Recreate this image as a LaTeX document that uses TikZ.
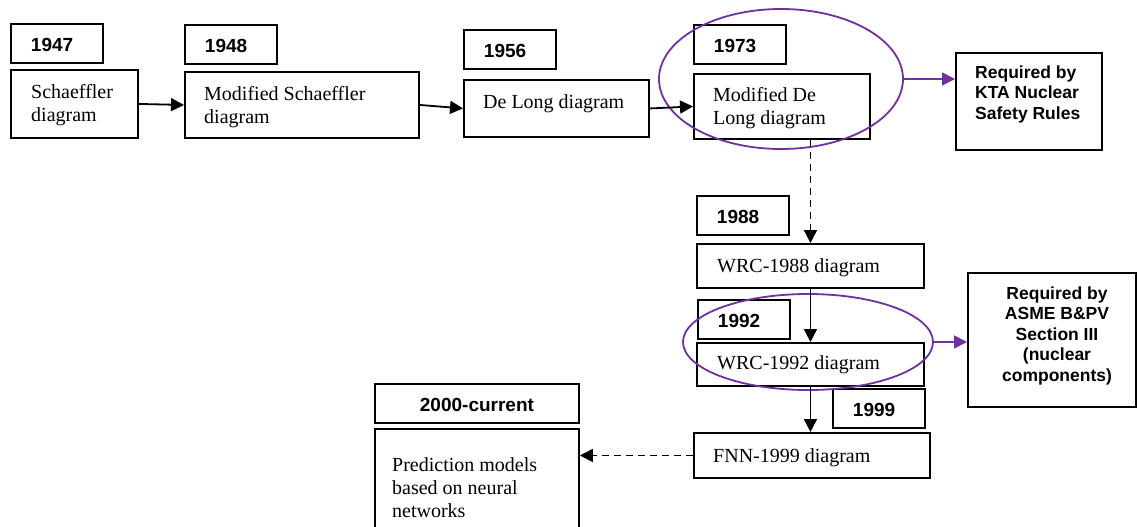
\documentclass[tikz,border=0pt]{standalone}
\usepackage{fontspec}
\setmainfont{Liberation Serif}
\setsansfont{Liberation Sans}
\usetikzlibrary{arrows.meta,shapes.geometric}
\definecolor{ringpurple}{RGB}{112,48,160}
\begin{document}
\begin{tikzpicture}[x=1pt,y=-1pt,
  box/.style={draw, line width=1.9pt, inner sep=0pt, anchor=north west},
  yearbox/.style={box, minimum height=39pt, text width=52pt, inner xsep=20pt,
     align=left, text height=17pt, text depth=0pt,
     font=\sffamily\bfseries\fontsize{19}{22}\selectfont},
  txt/.style={inner sep=0pt, anchor=base west, align=left,
     font=\fontsize{20}{23}\selectfont},
  reqtxt/.style={inner sep=0pt, font=\sffamily\bfseries\fontsize{17.5}{20.5}\selectfont},
  flow/.style={line width=1.8pt, -{Triangle[length=13pt,width=13pt]}},
  dflow/.style={flow, dash pattern=on 7pt off 5pt},
  ring/.style={draw=ringpurple, line width=1.8pt, ellipse, inner sep=0pt},
  ringflow/.style={ringpurple, line width=1.8pt, -{Triangle[length=13pt,width=13pt]}}
]
\clip (0,0) rectangle (1137,527);
\fill[white] (0,0) rectangle (1137,527);

% year boxes
\node[yearbox, minimum width=92pt] (y1947) at (10,23) {1947};
\node[yearbox, minimum width=92pt] (y1948) at (184,24) {1948};
\node[yearbox, minimum width=92pt] (y1956) at (463,29) {1956};
\node[yearbox, minimum width=91pt] (y1973) at (693,24) {1973};
\node[yearbox, minimum width=91pt] (y1988) at (696,195) {1988};
\node[yearbox, minimum width=91pt] (y1992) at (697,299) {1992};
\node[yearbox, minimum width=91pt] (y1999) at (832,388) {1999};
\node[yearbox, minimum width=204pt, text width=164pt, align=center] (y2000) at (374,383) {2000-current};

% diagram boxes
\node[box, minimum width=127pt, minimum height=68pt] (b1) at (10,69) {};
\node[box, minimum width=234pt, minimum height=66pt] (b2) at (184,71) {};
\node[box, minimum width=185pt, minimum height=57pt] (b3) at (463,79) {};
\node[box, minimum width=176pt, minimum height=65pt] (b4) at (693,73) {};
\node[box, minimum width=227pt, minimum height=44pt] (b5) at (696,243) {};
\node[box, minimum width=227pt, minimum height=43pt] (b6) at (696,342) {};
\node[box, minimum width=236pt, minimum height=45pt] (b7) at (693,432) {};
\node[box, minimum width=204pt, minimum height=120pt] (b8) at (374,428) {};
\node[box, minimum width=146pt, minimum height=97pt] (k1) at (955,52) {};
\node[box, minimum width=168pt, minimum height=134pt] (k2) at (967,272) {};

% texts (base anchor = last line)
\node[txt] (t1) at ([shift={(21,52)}]b1.north west) {Schaeffler\\diagram};
\node[txt] (t2) at ([shift={(20,52)}]b2.north west) {Modified Schaeffler\\diagram};
\node[txt] (t3) at ([shift={(20,29)}]b3.north west) {De Long diagram};
\node[txt] (t4) at ([shift={(20,51)}]b4.north west) {Modified De\\Long diagram};
\node[txt] (t5) at ([shift={(21,29)}]b5.north west) {WRC-1988 diagram};
\node[txt] (t6) at ([shift={(21,27)}]b6.north west) {WRC-1992 diagram};
\node[txt] (t7) at ([shift={(20,30)}]b7.north west) {FNN-1999 diagram};
\node[txt] (t8) at ([shift={(18,89)}]b8.north west) {Prediction models\\based on neural\\networks};
\node[reqtxt, anchor=base west, align=left] (r1) at ([shift={(20,67)}]k1.north west) {Required by\\KTA Nuclear\\Safety Rules};
\node[reqtxt, anchor=base, align=center] (r2) at ([shift={(90,109)}]k2.north west) {Required by\\ASME B\&PV\\Section III\\(nuclear\\components)};

% rings
\node[ring, minimum width=244pt, minimum height=140pt] (e1) at (781,79) {};
\node[ring, minimum width=250pt, minimum height=96pt] (e2) at (808,342) {};

% connectors
\draw[flow] (b1.east) -- (b2.west);
\draw[flow] (b2.east) -- (b3.west);
\draw[flow] (b3.east) -- (b4.west);
\draw[dflow] (b4.south -| b5.north) -- (b5.north);
\draw[flow] (b5.south) -- (b6.north);
\draw[flow] (b6.south) -- (b6.south |- b7.north);
\draw[dflow] (b7.west) -- (b7.west -| b8.east);
\draw[ringflow] (e1.east) -- (e1.east -| k1.west);
\draw[ringflow] (e2.east) -- (e2.east -| k2.west);
\end{tikzpicture}
\end{document}
